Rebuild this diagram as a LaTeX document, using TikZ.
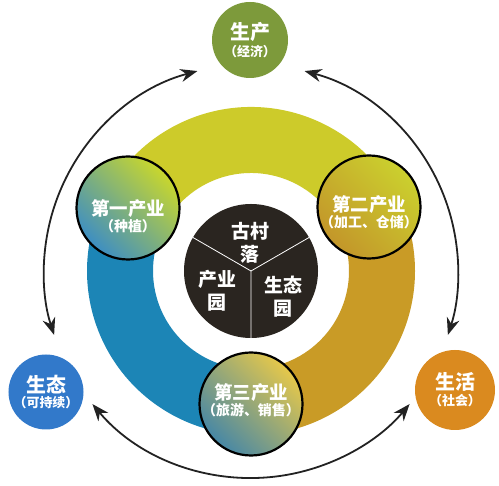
\documentclass[tikz,border=0pt]{standalone}
\usepackage{fontspec}
\setmainfont{Noto Sans CJK SC}
\usetikzlibrary{arrows.meta,calc}
\definecolor{ringY}{HTML}{CDCB2A}
\definecolor{ringB}{HTML}{1C85B6}
\definecolor{ringG}{HTML}{C99B26}
\definecolor{darkc}{HTML}{2A2520}
\definecolor{topc}{HTML}{7D9A3B}
\definecolor{leftc}{HTML}{3279CA}
\definecolor{rightc}{HTML}{DA8A1F}
\definecolor{arrowc}{HTML}{222222}
\definecolor{gBlue}{HTML}{3D8EC3}
\definecolor{gYel}{HTML}{C9D72C}
\definecolor{gGold}{HTML}{C3962A}
\definecolor{gYG}{HTML}{CBD02E}
\definecolor{gTeal}{HTML}{4687A6}
\definecolor{gSun}{HTML}{E6C84A}
\begin{document}
\begin{tikzpicture}[x=1bp,y=1bp,
  outerc/.style={circle, inner sep=0pt, minimum size=#1, text=white, font=\bfseries},
  smallc/.style={circle, inner sep=0pt, minimum size=103bp, draw=black, line width=2.2bp},
  wtxt/.style={text=white, font=\bfseries, align=center, inner sep=0pt},
  arr/.style={{Stealth[length=17bp,width=13bp]}-{Stealth[length=17bp,width=13bp]}, line width=1.8bp, draw=arrowc},
]
\useasboundingbox (0,0) rectangle (499,486);
\coordinate (C) at (251,215);
% ring
\fill[ringY] ([shift={(18:164)}]C) arc[start angle=18,end angle=162,radius=164] -- ([shift={(162:98)}]C) arc[start angle=162,end angle=18,radius=98] -- cycle;
\fill[ringB] ([shift={(162:164)}]C) arc[start angle=162,end angle=270,radius=164] -- ([shift={(270:98)}]C) arc[start angle=270,end angle=162,radius=98] -- cycle;
\fill[ringG] ([shift={(-90:164)}]C) arc[start angle=-90,end angle=18,radius=164] -- ([shift={(18:98)}]C) arc[start angle=18,end angle=-90,radius=98] -- cycle;
% centre disk
\node[circle, fill=darkc, minimum size=134bp, inner sep=0pt] (D) at (C) {};
\draw[white, line width=0.8bp] (D.center) -- (D.30) (D.center) -- (D.150) (D.center) -- (D.270);
\node[wtxt, font=\fontsize{19}{23}\selectfont\bfseries] (D1) at (250,243) {古村\\落};
\node[wtxt, font=\fontsize{19}{23}\selectfont\bfseries] (D2) at (217,195) {产业\\园};
\node[wtxt, font=\fontsize{19}{23}\selectfont\bfseries] (D3) at (283,189) {生态\\园};
% small circles
\node[smallc, left color=gBlue, right color=gYel, shading angle=135] (L) at (128,278) {};
\node[smallc, left color=gGold, right color=gYG, shading angle=135] (R) at (369,279) {};
\node[smallc, left color=gTeal, right color=gSun, shading angle=135] (B) at (251,82) {};
\node[wtxt] (Lt) at ([yshift=-8]L) {{\fontsize{18.5}{20}\selectfont 第一产业}\\[1bp]{\fontsize{14}{16}\selectfont （种植）}};
\node[wtxt] (Rt) at ([yshift=-5]R) {{\fontsize{18.5}{20}\selectfont 第二产业}\\[1bp]{\fontsize{14}{16}\selectfont （加工、仓储）}};
\node[wtxt] (Bt) at ([yshift=4]B) {{\fontsize{18.5}{20}\selectfont 第三产业}\\[1bp]{\fontsize{14}{16}\selectfont （旅游、销售）}};
% outer nodes
\node[outerc=76bp, fill=topc] (T) at (250,446) {};
\node[outerc=75bp, fill=leftc] (Lo) at (46,94) {};
\node[outerc=80bp, fill=rightc] (Ro) at (455,96) {};
\node[wtxt] (Tt) at (T) {{\fontsize{20}{22}\selectfont 生产}\\[2bp]{\fontsize{13}{14}\selectfont （经济）}};
\node[wtxt] (Lot) at (Lo) {{\fontsize{20}{22}\selectfont 生态}\\[2bp]{\fontsize{13}{14}\selectfont （可持续）}};
\node[wtxt] (Rot) at (Ro) {{\fontsize{20}{22}\selectfont 生活}\\[2bp]{\fontsize{13}{14}\selectfont （社会）}};
% arrows
\coordinate (a1) at ([shift={(105:207)}]C);
\coordinate (a2) at ([shift={(75:207)}]C);
\coordinate (a3) at ([shift={(220:207)}]C);
\draw[arr] (a1) arc[start angle=105,end angle=198,radius=207];
\draw[arr] (a2) arc[start angle=75,end angle=-18,radius=207];
\draw[arr] (a3) arc[start angle=220,end angle=320,radius=207];
\end{tikzpicture}
\end{document}
